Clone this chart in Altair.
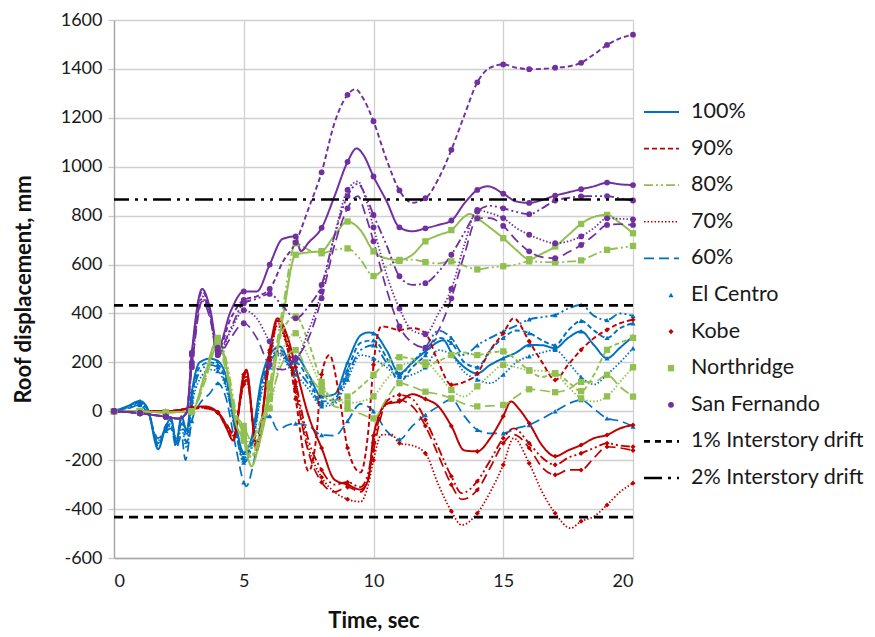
import altair as alt
import pandas as pd

# ---------------- categories / styles ----------------
QUAKES = ["El Centro", "Kobe", "Northridge", "San Fernando"]
QUAKE_COLORS = ["#0070C0", "#C00000", "#92C050", "#7030A0"]
QUAKE_SHAPES = ["triangle-up", "diamond", "square", "circle"]
QUAKE_SIZES = [26, 26, 40, 34]
LEVELS = ["100%", "90%", "80%", "70%", "60%"]
LEVEL_DASHES = [[1, 0], [5, 3], [9, 3, 2, 3, 2, 3], [1.5, 2], [10, 5]]
LEVEL_WIDTHS = [2.0, 1.7, 1.7, 1.3, 1.7]

DRIFT_1PCT = [433, -433]
DRIFT_2PCT = [866]

X_TICKS = [0, 5, 10, 15, 20]
Y_TICKS = [-600, -400, -200, 0, 200, 400, 600, 800, 1000, 1200, 1400, 1600]

# ---------------- series: (time s, roof displacement mm) ----------------
EC_100 = [(0,0),(0.5,20),(1,42),(1.3,10),(1.7,-155),(2,-60),(2.2,-30),(2.4,-130),(2.6,-20),(2.8,-80),(3,80),(3.3,200),(3.7,215),(4,205),(4.3,150),(4.7,-60),(5,-170),(5.3,-110),(5.7,140),(6,230),(6.4,265),(6.8,200),(7,225),(7.5,150),(8,60),(8.5,70),(9,200),(9.5,310),(9.8,322),(10,319),(10.5,250),(11,155),(11.5,200),(12,245),(12.7,290),(13,240),(13.5,180),(14,155),(14.5,190),(15,217),(15.5,240),(16,271),(16.5,270),(17,258),(17.5,300),(18,327),(18.5,270),(19,217),(19.5,260),(20,307)]
EC_90 = [(0,0),(0.5,18),(1,38),(1.3,10),(1.7,-140),(2,-60),(2.2,-40),(2.4,-120),(2.6,-30),(2.8,-100),(3,60),(3.3,180),(3.7,200),(4,190),(4.3,130),(4.7,-80),(5,-190),(5.3,-130),(5.7,120),(6,210),(6.4,250),(6.8,190),(7,200),(7.5,130),(8,40),(8.5,50),(9,170),(9.5,280),(10,290),(10.5,220),(11,120),(11.5,180),(12,230),(12.5,300),(13,280),(13.5,200),(14,180),(14.5,250),(15,300),(15.5,330),(16,320),(16.5,290),(17,270),(17.5,330),(18,370),(18.5,330),(19,300),(19.5,340),(20,360)]
EC_80 = [(0,0),(0.5,15),(1,35),(1.3,5),(1.7,-130),(2,-70),(2.2,-50),(2.4,-130),(2.6,-50),(2.8,-130),(3,40),(3.3,160),(3.7,190),(4,180),(4.3,110),(4.7,-90),(5,-210),(5.3,-150),(5.7,100),(6,200),(6.4,240),(6.8,180),(7,170),(7.5,110),(8,30),(8.5,40),(9,150),(9.5,250),(10,270),(10.5,200),(11,150),(11.5,200),(12,260),(12.5,330),(13,300),(13.5,230),(14,270),(14.5,300),(15,327),(15.5,350),(16,376),(16.5,385),(17,394),(17.5,420),(18,435),(18.5,390),(19,373),(19.5,400),(20,390)]
EC_70 = [(0,0),(0.5,12),(1,30),(1.3,0),(1.7,-120),(2,-70),(2.2,-60),(2.4,-140),(2.6,-70),(2.8,-150),(3,20),(3.3,130),(3.7,170),(4,165),(4.3,100),(4.7,-80),(5,-200),(5.3,-150),(5.7,80),(6,180),(6.4,230),(6.8,170),(7,150),(7.5,90),(8,20),(8.5,30),(9,130),(9.5,230),(10,216),(10.5,180),(11,140),(11.5,150),(12,180),(12.5,250),(13,230),(13.5,160),(14,130),(14.5,115),(15,150),(15.5,200),(16,225),(16.5,240),(17,251),(17.5,200),(18,140),(18.5,110),(19,150),(19.5,200),(20,258)]
EC_60 = [(0,0),(0.5,10),(1,25),(1.3,-10),(1.7,-110),(2,-80),(2.2,-70),(2.4,-150),(2.6,-100),(2.75,-200),(3,-40),(3.3,30),(3.7,74),(4,115),(4.3,60),(4.7,-150),(5,-290),(5.1,-307),(5.4,-200),(5.7,-40),(6,-20),(6.3,-76),(6.7,-56),(7,-50),(7.5,-60),(8,-97),(8.5,-100),(9,-40),(9.5,30),(10,0),(10.5,-80),(11,-115),(11.5,-60),(12,-15),(12.5,20),(13,49),(13.5,-20),(14,-76),(14.5,-90),(15,-90),(15.5,-70),(16,-56),(16.5,-30),(17,0),(17.5,30),(18,46),(18.5,10),(19,-29),(19.5,-40),(20,-62)]

KB_100 = [(0,0),(0.5,0),(1,0),(1.5,0),(2,0),(2.5,5),(3,15),(3.5,20),(4,-5),(4.3,-60),(4.6,-120),(5,150),(5.1,170),(5.5,-160),(6,250),(6.3,380),(6.7,300),(7,180),(7.5,-20),(8,-150),(8.5,-280),(9,-300),(9.5,-320),(9.8,-280),(10,-100),(10.5,30),(11,40),(11.5,70),(12,50),(12.5,20),(13,-60),(13.5,-160),(14,-164),(14.5,-110),(15,-20),(15.3,40),(15.6,10),(16,-49),(16.5,-140),(17,-184),(17.5,-160),(18,-138),(18.5,-110),(19,-97),(19.5,-70),(20,-56)]
KB_90 = [(0,0),(0.5,0),(1,0),(1.5,0),(2,0),(2.5,5),(3,15),(3.5,18),(4,-5),(4.3,-60),(4.6,-110),(5,140),(5.1,160),(5.5,-150),(6,240),(6.3,370),(6.7,250),(7,50),(7.5,-245),(7.8,-100),(8,150),(8.3,230),(8.7,50),(9,-150),(9.5,-250),(9.8,-80),(10,190),(10.3,347),(10.5,345),(11,333),(11.5,340),(12,319),(12.5,200),(13,108),(13.5,120),(14,155),(14.5,250),(15,319),(15.4,380),(16,286),(16.5,200),(17,128),(17.5,190),(18,251),(18.5,300),(19,333),(19.5,360),(20,374)]
KB_80 = [(0,0),(0.5,0),(1,0),(1.5,0),(2,0),(2.5,5),(3,12),(3.5,15),(4,-5),(4.3,-50),(4.6,-100),(5,120),(5.1,140),(5.5,-140),(6,220),(6.3,370),(6.7,280),(7,120),(7.5,-120),(8,-240),(8.5,-300),(9,-290),(9.5,-310),(9.8,-250),(10,-130),(10.5,40),(11,67),(11.5,50),(12,-35),(12.5,-150),(13,-266),(13.4,-335),(14,-286),(14.5,-200),(15,-110),(15.4,-70),(16,-131),(16.5,-190),(17,-219),(17.5,-190),(18,-172),(18.5,-150),(19,-131),(19.5,-140),(20,-145)]
KB_70 = [(0,0),(0.5,0),(1,0),(1.5,0),(2,0),(2.5,5),(3,12),(3.5,15),(4,-5),(4.3,-50),(4.6,-100),(5,110),(5.1,130),(5.5,-130),(6,210),(6.3,350),(6.7,250),(7,100),(7.5,-150),(8,-270),(8.5,-330),(9,-360),(9.5,-370),(9.8,-300),(10,-200),(10.3,-97),(10.7,-95),(11,-131),(11.5,-140),(12,-172),(12.5,-300),(13,-409),(13.4,-465),(14,-417),(14.5,-330),(15,-219),(15.4,-110),(16,-213),(16.5,-330),(17,-417),(17.6,-478),(18,-450),(18.5,-430),(19,-383),(19.5,-330),(20,-294)]
KB_60 = [(0,0),(0.5,0),(1,0),(1.5,0),(2,0),(2.5,5),(3,10),(3.5,12),(4,-5),(4.3,-45),(4.6,-90),(5,110),(5.1,130),(5.5,-130),(6,210),(6.3,360),(6.7,260),(7,80),(7.5,-170),(8,-290),(8.5,-330),(9,-310),(9.5,-330),(9.8,-270),(10,-160),(10.5,30),(11,45),(11.5,20),(12,-60),(12.5,-180),(13,-300),(13.4,-360),(14,-322),(14.5,-230),(15,-131),(15.4,-95),(16,-150),(16.5,-230),(17,-260),(17.5,-240),(18,-240),(18.5,-190),(19,-145),(19.5,-150),(20,-160)]

NR_100 = [(0,0),(0.5,0),(1,0),(1.5,-3),(2,-5),(2.5,-3),(3,0),(3.5,150),(4,295),(4.3,200),(4.7,-50),(5,-120),(5.3,-225),(5.6,-130),(6,60),(6.5,380),(7,640),(7.5,650),(8,655),(8.5,720),(9,776),(9.5,740),(10,654),(10.5,625),(11,619),(11.5,640),(12,695),(12.5,720),(13,741),(13.5,795),(13.7,807),(14,789),(14.5,750),(15,708),(15.5,660),(16,622),(16.5,645),(17,674),(17.5,720),(18,766),(18.5,795),(19,803),(19.5,770),(20,728)]
NR_90 = [(0,0),(0.5,0),(1,0),(1.5,-3),(2,-5),(2.5,-3),(3,0),(3.5,140),(4,290),(4.3,200),(4.7,-20),(5,-90),(5.3,-190),(5.6,-100),(6,114),(6.5,330),(7,388),(7.5,280),(8,120),(8.5,40),(9,60),(9.5,100),(10,149),(10.5,200),(11,221),(11.5,215),(12,190),(12.5,205),(13,230),(13.5,240),(14,230),(14.5,240),(15,245),(15.5,210),(16,167),(16.5,140),(17,155),(17.5,120),(18,82),(18.5,150),(19,251),(19.5,280),(20,300)]
NR_80 = [(0,0),(0.5,0),(1,0),(1.5,-3),(2,-5),(2.5,-3),(3,0),(3.5,150),(4,300),(4.3,220),(4.7,0),(5,-100),(5.3,-180),(5.6,-100),(6,100),(6.5,420),(7,687),(7.5,660),(8,646),(8.5,660),(9,666),(9.5,620),(10,553),(10.5,590),(11,615),(11.5,620),(12,610),(12.5,605),(13,613),(13.5,595),(14,580),(14.5,588),(15,593),(15.5,600),(16,613),(16.5,610),(17,609),(17.5,612),(18,617),(18.5,640),(19,660),(19.5,668),(20,676)]
NR_70 = [(0,0),(0.5,0),(1,0),(1.5,-3),(2,-5),(2.5,-3),(3,0),(3.5,130),(4,280),(4.3,180),(4.7,-20),(5,-80),(5.3,-150),(5.6,-60),(6,12),(6.5,250),(7,319),(7.5,220),(8,102),(8.5,50),(9,33),(9.5,40),(10,61),(10.5,130),(11,180),(11.5,200),(12,200),(12.5,150),(13,87),(13.5,60),(14,102),(14.5,150),(15,190),(15.5,180),(16,167),(16.5,165),(17,155),(17.5,100),(18,53),(18.5,40),(19,61),(19.5,120),(20,180)]
NR_60 = [(0,0),(0.5,0),(1,0),(1.5,-3),(2,-5),(2.5,-3),(3,0),(3.5,120),(4,270),(4.3,170),(4.7,-10),(5,-60),(5.3,-120),(5.6,-50),(6,50),(6.5,200),(7,250),(7.5,150),(8,80),(8.5,20),(9,10),(9.5,-10),(10,-29),(10.5,50),(11,115),(11.5,100),(12,80),(12.5,70),(13,53),(13.5,30),(14,20),(14.5,22),(15,26),(15.5,60),(16,90),(16.5,85),(17,78),(17.5,90),(18,120),(18.5,120),(19,149),(19.5,100),(20,60)]

SF_100 = [(0,0),(0.5,-3),(1,-8),(1.5,-15),(2,-22),(2.5,-30),(2.8,-5),(3,240),(3.4,500),(3.7,420),(4,260),(4.5,410),(5,490),(5.5,490),(6,600),(6.5,705),(7,715),(7.2,655),(7.5,690),(8,750),(8.5,880),(9,1020),(9.35,1075),(9.6,1050),(10,960),(10.5,860),(11,752),(11.5,736),(12,748),(12.5,762),(13,780),(13.5,850),(14,905),(14.4,920),(15,890),(15.5,858),(16,852),(16.5,864),(17,882),(17.5,895),(18,908),(18.5,920),(19,935),(19.5,928),(20,925)]
SF_90 = [(0,0),(0.5,-3),(1,-8),(1.5,-15),(2,-22),(2.5,-30),(2.8,-5),(3,230),(3.4,490),(3.7,410),(4,250),(4.5,380),(5,455),(5.5,470),(6,500),(6.5,610),(7,690),(7.5,830),(8,977),(8.5,1180),(9,1294),(9.3,1317),(9.6,1280),(10,1186),(10.5,1030),(11,903),(11.5,853),(12,871),(12.5,950),(13,1069),(13.5,1210),(14,1345),(14.5,1405),(15,1418),(15.5,1405),(16,1399),(16.5,1400),(17,1405),(17.5,1410),(18,1425),(18.5,1460),(19,1498),(19.5,1525),(20,1540)]
SF_80 = [(0,0),(0.5,-3),(1,-8),(1.5,-15),(2,-22),(2.5,-30),(2.8,-5),(3,200),(3.4,470),(3.7,400),(4,240),(4.5,340),(5,442),(5.5,460),(6,480),(6.5,430),(7,380),(7.5,430),(8,517),(8.5,720),(9,880),(9.4,930),(9.7,880),(10,803),(10.5,680),(11,552),(11.5,517),(12,524),(12.5,570),(13,640),(13.5,730),(14,817),(14.5,840),(15,830),(15.5,815),(16,806),(16.5,830),(17,862),(17.5,872),(18,879),(18.5,880),(19,880),(19.5,870),(20,862)]
SF_70 = [(0,0),(0.5,-3),(1,-8),(1.5,-15),(2,-22),(2.5,-30),(2.8,-5),(3,190),(3.4,460),(3.7,390),(4,230),(4.5,330),(5,413),(5.5,380),(6,286),(6.5,230),(7,217),(7.5,330),(8,490),(8.5,720),(9,905),(9.4,940),(9.7,870),(10,752),(10.5,560),(11,420),(11.5,330),(12,315),(12.5,400),(13,500),(13.5,680),(14,823),(14.5,810),(15,790),(15.5,750),(16,722),(16.5,700),(17,687),(17.5,695),(18,715),(18.5,750),(19,789),(19.5,787),(20,785)]
SF_60 = [(0,0),(0.5,-3),(1,-8),(1.5,-15),(2,-22),(2.5,-30),(2.8,-5),(3,180),(3.4,450),(3.7,380),(4,230),(4.5,300),(5,360),(5.5,300),(6,190),(6.5,170),(7,213),(7.5,300),(8,462),(8.5,680),(9,830),(9.4,880),(9.7,800),(10,695),(10.5,500),(11,347),(11.5,280),(12,260),(12.5,330),(13,462),(13.5,640),(14,789),(14.5,790),(15,758),(15.5,700),(16,654),(16.5,630),(17,626),(17.5,650),(18,680),(18.5,720),(19,762),(19.5,765),(20,762)]

SERIES = {
    ("El Centro", "100%"): EC_100, ("El Centro", "90%"): EC_90, ("El Centro", "80%"): EC_80,
    ("El Centro", "70%"): EC_70, ("El Centro", "60%"): EC_60,
    ("Kobe", "100%"): KB_100, ("Kobe", "90%"): KB_90, ("Kobe", "80%"): KB_80,
    ("Kobe", "70%"): KB_70, ("Kobe", "60%"): KB_60,
    ("Northridge", "100%"): NR_100, ("Northridge", "90%"): NR_90, ("Northridge", "80%"): NR_80,
    ("Northridge", "70%"): NR_70, ("Northridge", "60%"): NR_60,
    ("San Fernando", "100%"): SF_100, ("San Fernando", "90%"): SF_90, ("San Fernando", "80%"): SF_80,
    ("San Fernando", "70%"): SF_70, ("San Fernando", "60%"): SF_60,
}

LEGEND_LABELS = ["100%", "90%", "80%", "70%", "60%", "El Centro", "Kobe", "Northridge",
                 "San Fernando", "1% Interstory drift", "2% Interstory drift"]

# ---------------- tables ----------------
rows = []
for (q, lv), pts in SERIES.items():
    for i, (t, v) in enumerate(pts):
        rows.append({"quake": q, "level": lv, "sid": q + " " + lv, "t": t, "v": v,
                     "order": i, "marker": float(t).is_integer()})
df = pd.DataFrame(rows)
drift_df = pd.DataFrame({"v": DRIFT_1PCT})
drift2_df = pd.DataFrame({"v": DRIFT_2PCT})

FONT = "Lato"
W, H = 519, 538

x_enc = alt.X("t:Q", scale=alt.Scale(domain=[0, 20], nice=False),
              axis=alt.Axis(values=X_TICKS, title="Time, sec", ticks=False,
                            labelPadding=14, titlePadding=20,
                            labelExpr="'' + datum.value"))
y_enc = alt.Y("v:Q", scale=alt.Scale(domain=[-600, 1600], nice=False),
              axis=alt.Axis(values=Y_TICKS, title="Roof displacement, mm",
                            tickSize=6, labelPadding=6, titlePadding=25,
                            labelExpr="'' + datum.value"))

lines = alt.Chart(df).mark_line(interpolate="monotone").encode(
    x=x_enc, y=y_enc,
    color=alt.Color("quake:N", scale=alt.Scale(domain=QUAKES, range=QUAKE_COLORS), legend=None),
    strokeDash=alt.StrokeDash("level:N", scale=alt.Scale(domain=LEVELS, range=LEVEL_DASHES), legend=None),
    strokeWidth=alt.StrokeWidth("level:O", scale=alt.Scale(domain=LEVELS, range=LEVEL_WIDTHS), legend=None),
    detail="sid:N",
    order="order:Q",
)

point_layers = []
for q, c, s, sz in zip(QUAKES, QUAKE_COLORS, QUAKE_SHAPES, QUAKE_SIZES):
    point_layers.append(
        alt.Chart(df).transform_filter((alt.datum.quake == q) & alt.datum.marker)
        .mark_point(filled=True, opacity=1, shape=s, size=sz, color=c)
        .encode(x="t:Q", y="v:Q")
    )

rule1 = alt.Chart(drift_df).mark_rule(color="black", strokeWidth=2.6, strokeDash=[9, 6]).encode(y="v:Q")
rule2 = alt.Chart(drift2_df).mark_rule(color="black", strokeWidth=2.6,
                                       strokeDash=[18, 6, 3, 6, 3, 6]).encode(y="v:Q")

main = alt.layer(lines, *point_layers, rule1, rule2).properties(width=W, height=H)

# ---------------- legend panel ----------------
leg_df = pd.DataFrame({"row": list(range(len(LEGEND_LABELS))), "label": LEGEND_LABELS})
LEG_TOP, LEG_STEP = 92.0, 36.6
leg_y = alt.Y("row:Q", axis=None,
              scale=alt.Scale(domain=[-LEG_TOP / LEG_STEP, (H - LEG_TOP) / LEG_STEP],
                              reverse=True, nice=False, zero=False))
LX0, LX1, LMX, LTX = 7, 42, 34, 54

legend_lines = [
    (0, QUAKE_COLORS[0], LEVEL_DASHES[0], 2.2),
    (1, QUAKE_COLORS[1], LEVEL_DASHES[1], 1.8),
    (2, QUAKE_COLORS[2], LEVEL_DASHES[2], 1.8),
    (3, QUAKE_COLORS[1], LEVEL_DASHES[3], 1.4),
    (4, QUAKE_COLORS[0], LEVEL_DASHES[4], 1.8),
    (9, "black", [6, 5], 2.6),
    (10, "black", [18, 6, 3, 6], 2.6),
]
leg_layers = []
for r, c, d, w in legend_lines:
    leg_layers.append(
        alt.Chart(leg_df).transform_filter(alt.datum.row == r)
        .mark_rule(color=c, strokeDash=d, strokeWidth=w)
        .encode(x=alt.value(LX0), x2=alt.value(LX1), y=leg_y)
    )
for k, (c, s, sz) in enumerate(zip(QUAKE_COLORS, QUAKE_SHAPES, QUAKE_SIZES)):
    leg_layers.append(
        alt.Chart(leg_df).transform_filter(alt.datum.row == 5 + k)
        .mark_point(filled=True, opacity=1, shape=s, size=sz, color=c)
        .encode(x=alt.value(LMX), y=leg_y)
    )
leg_text = alt.Chart(leg_df).mark_text(align="left", baseline="middle", font=FONT,
                                        fontSize=21.5, color="#1a1a1a").encode(
    x=alt.value(LTX), y=leg_y, text="label:N")

legend = alt.layer(*leg_layers, leg_text).properties(width=170, height=H)

chart = alt.hconcat(main, legend, spacing=0).properties(
    padding={"left": 4, "top": 3, "right": 0, "bottom": 0}
).configure_view(stroke=None).configure_axis(
    labelFont=FONT, labelFontSize=18, labelColor="#1a1a1a",
    titleFont=FONT, titleFontSize=22, titleFontWeight="bold", titleColor="#111",
    gridColor="#D0D0D0", gridWidth=1.3, domainColor="#A6A6A6", domainWidth=1.3,
    tickColor="#C8C8C8", tickWidth=1.3,
)

chart.save("out.html", embed_options={"renderer": "svg", "actions": False})
